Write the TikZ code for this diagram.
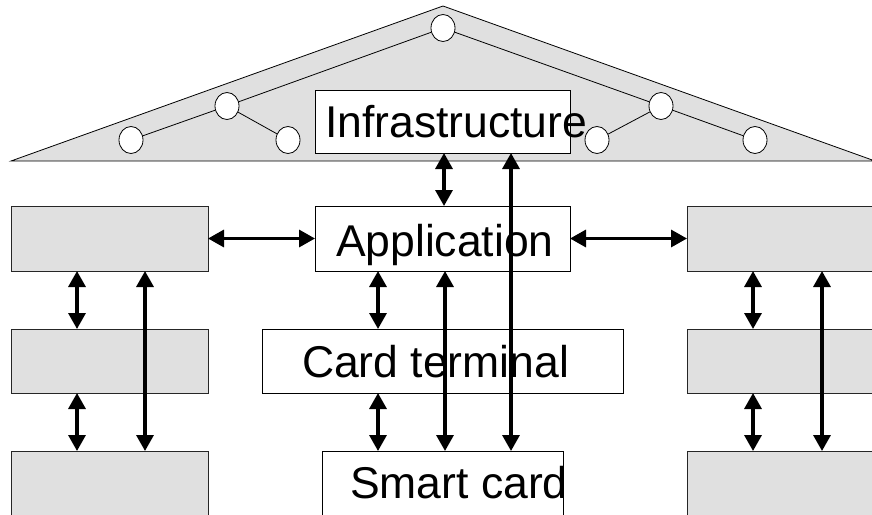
\documentclass[tikz,border=0pt]{standalone}
\usepackage{fontspec}
\setmainfont{Liberation Sans}
\usetikzlibrary{arrows.meta,shapes.geometric}
\definecolor{roofgray}{HTML}{E0E0E0}
\tikzset{
  wbox/.style={draw=black, line width=0.8pt, fill=white, inner sep=0pt, outer sep=0pt, anchor=north west},
  gbox/.style={draw=black!85, line width=0.8pt, fill=roofgray, inner sep=0pt, outer sep=0pt, anchor=north west},
  lbl/.style={inner sep=0pt, outer sep=0pt, anchor=base west, font=\fontsize{44.5}{50}\selectfont},
  knot/.style={ellipse, draw=black, line width=0.8pt, fill=white, minimum width=24pt, minimum height=27pt, inner sep=0pt},
  tie/.style={draw=black, line width=0.8pt},
  dbl/.style={line width=3.3pt, {Triangle[length=16pt 0 0,width=17pt 0 0]}-{Triangle[length=16pt 0 0,width=17pt 0 0]}}
}
\begin{document}
\begin{tikzpicture}[x=1pt,y=-1pt]
\useasboundingbox (0,0) rectangle (872,514);
\clip (0,0) rectangle (872,514);
% roof
\draw[fill=roofgray, line width=0.8pt] (11,161) -- (443,6) -- (875,161) -- cycle;
\node[knot] (k0) at (443,28) {};
\node[knot] (kl) at (227,106) {};
\node[knot] (kll) at (131,140) {};
\node[knot] (kli) at (288,140) {};
\node[knot] (kr) at (661,106) {};
\node[knot] (kri) at (597,140) {};
\node[knot] (krr) at (755,140) {};
\draw[tie] (k0) -- (kl);
\draw[tie] (kl) -- (kll);
\draw[tie] (kl) -- (kli);
\draw[tie] (k0) -- (kr);
\draw[tie] (kr) -- (kri);
\draw[tie] (kr) -- (krr);
% boxes
\node[wbox, minimum width=255pt, minimum height=63pt] (infra) at (315,90) {};
\node[wbox, minimum width=255pt, minimum height=65pt] (app) at (315,206) {};
\node[wbox, minimum width=361pt, minimum height=64pt] (term) at (262,329) {};
\node[wbox, minimum width=241pt, minimum height=80pt] (card) at (322,451) {};
\node[gbox, minimum width=197pt, minimum height=65pt] (l1) at (11,206) {};
\node[gbox, minimum width=197pt, minimum height=64pt] (l2) at (11,329) {};
\node[gbox, minimum width=197pt, minimum height=80pt] (l3) at (11,451) {};
\node[gbox, minimum width=200pt, minimum height=65pt] (r1) at (687,206) {};
\node[gbox, minimum width=200pt, minimum height=64pt] (r2) at (687,329) {};
\node[gbox, minimum width=200pt, minimum height=80pt] (r3) at (687,451) {};
% labels
\node[lbl] (tinfra) at (325,137) {Infrastructure};
\node[lbl] (tapp) at (336,256) {Application};
\node[lbl] (tterm) at (302,377) {Card terminal};
\node[lbl] (tcard) at (350,498) {Smart card};
% connectors
\draw[dbl] (infra.south -| 444,0) -- (app.north -| 444,0);
\draw[dbl] (infra.south -| 511,0) -- (card.north -| 511,0);
\draw[dbl] (app.south -| 378,0) -- (term.north -| 378,0);
\draw[dbl] (term.south -| 378,0) -- (card.north -| 378,0);
\draw[dbl] (app.south -| 445,0) -- (card.north -| 445,0);
\draw[dbl] (l1.east) -- (app.west);
\draw[dbl] (app.east) -- (r1.west);
\draw[dbl] (l1.south -| 77,0) -- (l2.north -| 77,0);
\draw[dbl] (l2.south -| 77,0) -- (l3.north -| 77,0);
\draw[dbl] (l1.south -| 145,0) -- (l3.north -| 145,0);
\draw[dbl] (r1.south -| 753,0) -- (r2.north -| 753,0);
\draw[dbl] (r2.south -| 753,0) -- (r3.north -| 753,0);
\draw[dbl] (r1.south -| 822,0) -- (r3.north -| 822,0);
\end{tikzpicture}
\end{document}
